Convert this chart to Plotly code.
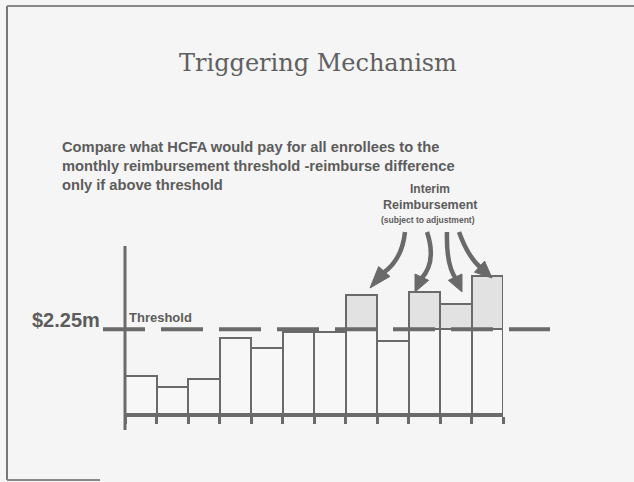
import plotly.graph_objects as go

# ---- data ----
months = [1, 2, 3, 4, 5, 6, 7, 8, 9, 10, 11, 12]
payments = [1.01, 0.72, 0.93, 2.02, 1.75, 2.18, 2.19, 3.16, 1.94, 3.25, 2.92, 3.67]  # $m
threshold = 2.25
threshold_label = "$2.25m"

base_part = [min(v, threshold) for v in payments]
excess_part = [max(v - threshold, 0) for v in payments]

W, H = 634, 482
L, R, T, B = 125, 503, 246, 414  # plot area in pixels
Y_TOP = (B - T) / (B - 329.3) * threshold

def px(x):
    return (x - L) / (R - L)

def py(y):
    return (B - y) / (B - T)

GRAY = "#6a6a6a"
TXT = "#5c5c5c"
BG = "#f5f5f5"

fig = go.Figure()
fig.add_trace(go.Bar(x=months, y=base_part, width=1,
                     marker=dict(color="#f7f7f7", line=dict(color=GRAY, width=2)),
                     hoverinfo="skip"))
fig.add_trace(go.Bar(x=months, y=excess_part, width=1,
                     marker=dict(color="#e2e2e2", line=dict(color=GRAY, width=2)),
                     hoverinfo="skip"))

shapes = []
# frame of the slide
shapes.append(dict(type="line", xref="paper", yref="paper", x0=px(7), x1=px(7), y0=py(6), y1=py(480),
                   line=dict(color="#777", width=2)))
shapes.append(dict(type="line", xref="paper", yref="paper", x0=px(7), x1=px(634), y0=py(6), y1=py(6),
                   line=dict(color="#888", width=2)))
shapes.append(dict(type="line", xref="paper", yref="paper", x0=px(7), x1=px(100), y0=py(480), y1=py(480),
                   line=dict(color="#888", width=2)))
# y axis line
shapes.append(dict(type="line", xref="paper", yref="paper", x0=0, x1=0, y0=py(430), y1=1,
                   line=dict(color=GRAY, width=3)))
# threshold dashed line
shapes.append(dict(type="line", xref="paper", yref="y", x0=px(103), x1=px(550), y0=threshold, y1=threshold,
                   line=dict(color=GRAY, width=4, dash="42px,16px"), layer="above"))

# curved arrows
arrows = [
    ((405, 232), (402, 260), (383, 273), (370, 288)),
    ((427, 232), (437, 262), (421, 279), (415, 292)),
    ((447, 232), (446, 265), (456, 279), (462, 292)),
    ((459, 232), (468, 257), (481, 268), (492, 278)),
]

def P(x, y):
    return f"{px(x):.5f},{py(y):.5f}"

for (s, c, b, t) in arrows:
    shapes.append(dict(type="path", xref="paper", yref="paper",
                       path=f"M {P(*s)} Q {P(*c)} {P(*b)}",
                       line=dict(color=GRAY, width=4.5)))
    dx, dy = t[0] - b[0], t[1] - b[1]
    n = (dx * dx + dy * dy) ** 0.5
    ux, uy = dx / n, dy / n
    hw = 7.5
    bx, by = b[0] - ux * 2, b[1] - uy * 2
    p1 = (bx + uy * hw, by - ux * hw)
    p2 = (bx - uy * hw, by + ux * hw)
    shapes.append(dict(type="path", xref="paper", yref="paper",
                       path=f"M {P(*t)} L {P(*p1)} L {P(*p2)} Z",
                       fillcolor=GRAY, line=dict(color=GRAY, width=1)))

ann = []
def text(x, y, s, size, family="Arial, Liberation Sans, sans-serif", xanchor="left", bold=True, color=TXT):
    ann.append(dict(xref="paper", yref="paper", x=px(x), y=py(y), text=(f"<b>{s}</b>" if bold else s),
                    showarrow=False, xanchor=xanchor, yanchor="middle",
                    font=dict(size=size, family=family, color=color)))

text(318, 63, "Triggering Mechanism", 24, family="DejaVu Serif", xanchor="center", bold=False, color="#606060")
body = ["Compare what HCFA would pay for all enrollees to the",
        "monthly reimbursement threshold -reimburse difference",
        "only if above threshold"]
for i, line in enumerate(body):
    text(60, 147 + i * 19, line, 14.7)
text(30, 320, threshold_label, 20)
text(127, 317, "Threshold", 13)
text(430, 189, "Interim", 12, xanchor="center")
text(430, 205, "Reimbursement", 12.5, xanchor="center")
text(428, 220, "(subject to adjustment)", 8.5, xanchor="center")

fig.update_layout(
    width=W, height=H,
    margin=dict(l=L, r=W - R, t=T, b=H - B, pad=0),
    paper_bgcolor=BG, plot_bgcolor=BG,
    barmode="stack", bargap=0, showlegend=False,
    shapes=shapes, annotations=ann,
    xaxis=dict(range=[0.5, 12.5], showgrid=False, zeroline=False, showline=True,
               linecolor=GRAY, linewidth=3, ticks="outside", ticklen=7, tickwidth=2.5,
               tickcolor=GRAY, tickvals=[i + 0.5 for i in range(0, 13)], showticklabels=False),
    yaxis=dict(range=[0, Y_TOP], showgrid=False, zeroline=False, showline=False,
               showticklabels=False, ticks=""),
)

fig.write_html("out.html", config={"displayModeBar": False},
               post_script="document.body.style.margin='0px';document.body.style.background='%s';" % BG)
